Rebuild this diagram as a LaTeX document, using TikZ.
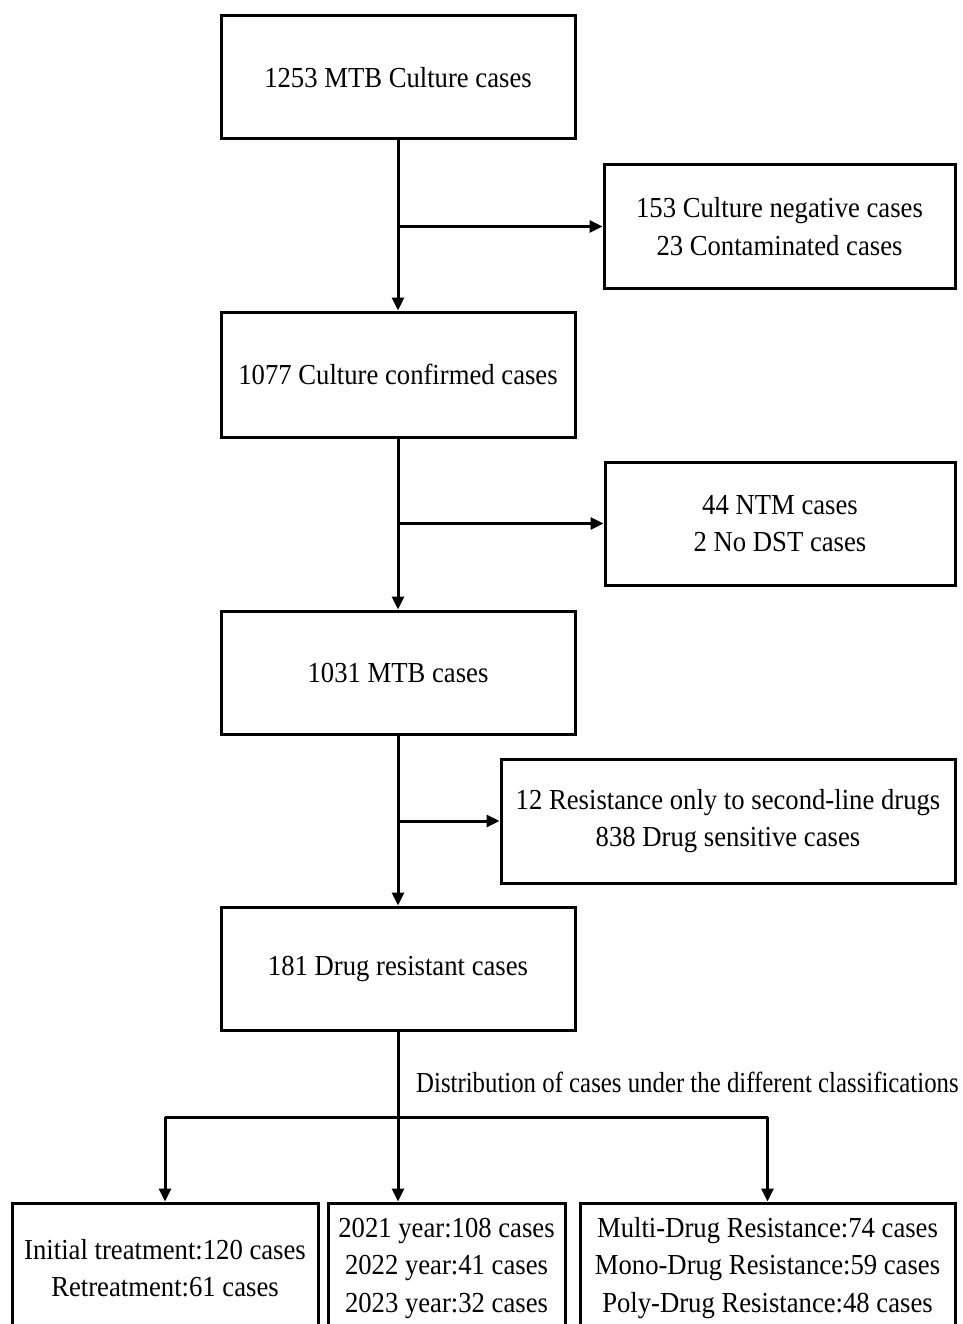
\documentclass[tikz,border=0pt]{standalone}
\usepackage{fontspec}
\usepackage{graphicx}
\setmainfont{Liberation Serif}[FakeStretch=0.92]
\usetikzlibrary{arrows.meta}
\begin{document}
\begin{tikzpicture}[x=1pt,y=-1pt,
  box/.style={draw,line width=3pt,align=center,inner sep=0pt,font=\fontsize{29}{37.5}\selectfont},
  arr/.style={line width=3pt,-{Triangle[length=13pt,width=12pt]}},
  ln/.style={line width=3pt}]
\useasboundingbox (0,0) rectangle (962,1324);
\clip (0,0) rectangle (962,1324);
\node[box,minimum width=354pt,minimum height=123pt] (b1) at (398,77.5) {1253 MTB Culture cases};
\node[box,minimum width=351pt,minimum height=123pt] (s1) at (779.5,226.5) {153 Culture negative cases\\23 Contaminated cases};
\node[box,minimum width=354pt,minimum height=125pt] (b2) at (398,374.5) {1077 Culture confirmed cases};
\node[box,minimum width=350pt,minimum height=123pt] (s2) at (780,523.5) {44 NTM cases\\2 No DST cases};
\node[box,minimum width=354pt,minimum height=123pt] (b3) at (398,672.5) {1031 MTB cases};
\node[box,minimum width=454pt,minimum height=124pt] (s3) at (728,821) {12 Resistance only to second-line drugs\\838 Drug sensitive cases};
\node[box,minimum width=354pt,minimum height=123pt] (b4) at (398,968.5) {181 Drug resistant cases};
\node[font=\fontsize{29}{37.5}\selectfont,anchor=west,inner sep=0pt] (lab) at (416,1082) {\scalebox{0.93}[1]{Distribution of cases under the different classifications}};
\node[box,minimum width=306pt,minimum height=130pt] (c1) at (165,1268) {Initial treatment:120 cases\\Retreatment:61 cases};
\node[box,minimum width=237pt,minimum height=130pt] (c2) at (446.5,1268) {2021 year:108 cases\\2022 year:41 cases\\2023 year:32 cases};
\node[box,minimum width=375pt,minimum height=130pt] (c3) at (767.5,1268) {Multi-Drug Resistance:74 cases\\Mono-Drug Resistance:59 cases\\Poly-Drug Resistance:48 cases};
\draw[arr] (b1.south) -- (b2.north);
\draw[arr] (b1.south |- s1.west) -- (s1.west);
\draw[arr] (b2.south) -- (b3.north);
\draw[arr] (b2.south |- s2.west) -- (s2.west);
\draw[arr] (b3.south) -- (b4.north);
\draw[arr] (b3.south |- s3.west) -- (s3.west);
\coordinate (h) at (398,1117);
\draw[arr] (b4.south) -- (b4.south |- c2.north);
\draw[ln] (c1.north |- h) -- (c3.north |- h);
\draw[arr] (c1.north |- h) -- (c1.north);
\draw[arr] (c3.north |- h) -- (c3.north);
\end{tikzpicture}
\end{document}
